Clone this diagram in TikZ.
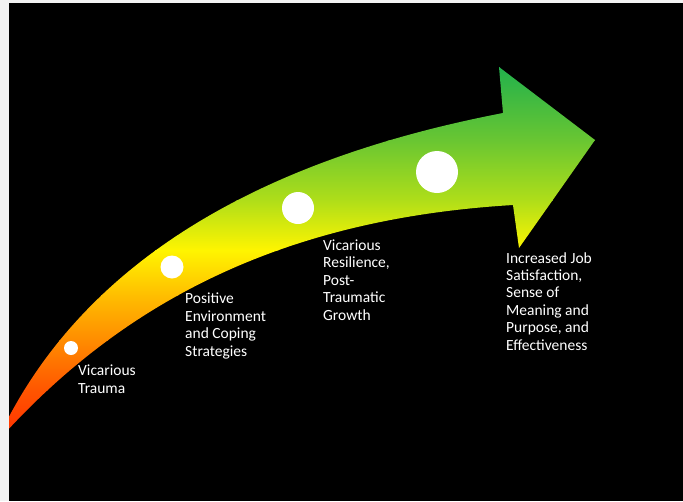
\documentclass[tikz,border=0pt]{standalone}
\usepackage{fontspec}
\setmainfont{Carlito}
\definecolor{pagegray}{RGB}{242,242,242}
\definecolor{g1}{RGB}{34,177,76}
\definecolor{g2}{RGB}{105,198,50}
\definecolor{g3}{RGB}{175,222,25}
\definecolor{y1}{RGB}{255,245,0}
\definecolor{o1}{RGB}{255,190,0}
\definecolor{o2}{RGB}{255,140,0}
\definecolor{o3}{RGB}{255,85,0}
\definecolor{r1}{RGB}{255,30,0}
\begin{document}
\begin{tikzpicture}[x=1pt,y=-1pt,
  caption/.style={text=white, font=\fontsize{15.5}{17.4}\selectfont,
    align=left, anchor=base west, inner sep=0pt},
  milestone/.style={circle, fill=white, inner sep=0pt, minimum size=#1}]
\useasboundingbox (0,0) rectangle (683,501);
\fill[pagegray] (0,0) rectangle (683,501);
\fill[black] (9,3) rectangle (683,501);

% curved arrow with a vertical green-to-red gradient
\begin{scope}
  \clip (9,3) rectangle (683,501);
  \clip (-4,443) .. controls (84,250) and (280,156) .. (503,113)
        -- (499,67) -- (595,140) -- (519,248) -- (513,205)
        .. controls (297,218) and (130,292) .. (-4,443) -- cycle;
  \fill[g1] (-10,50) rectangle (610,67.5);
  \shade[top color=g1, bottom color=g2] (-10,67) rectangle (610,140.5);
  \shade[top color=g2, bottom color=g3] (-10,140) rectangle (610,200.5);
  \shade[top color=g3, bottom color=y1] (-10,200) rectangle (610,250.5);
  \shade[top color=y1, bottom color=o1] (-10,250) rectangle (610,295.5);
  \shade[top color=o1, bottom color=o2] (-10,295) rectangle (610,340.5);
  \shade[top color=o2, bottom color=o3] (-10,340) rectangle (610,390.5);
  \shade[top color=o3, bottom color=r1] (-10,390) rectangle (610,460);
\end{scope}

% milestones along the arrow
\node[milestone=14pt] (m1) at (71,348) {};
\node[milestone=23pt] (m2) at (172,267) {};
\node[milestone=32pt] (m3) at (298,208) {};
\node[milestone=42pt] (m4) at (437,172) {};

% stage captions (anchored on the baseline of their last line)
\node[caption] (t1) at (78,393) {Vicarious\\Trauma};
\node[caption] (t2) at (185,356) {Positive\\Environment\\and Coping\\Strategies};
\node[caption] (t3) at (323,320) {Vicarious\\Resilience,\\Post-\\Traumatic\\Growth};
\node[caption] (t4) at (506,350) {Increased Job\\Satisfaction,\\Sense of\\Meaning and\\Purpose, and\\Effectiveness};
\end{tikzpicture}
\end{document}
